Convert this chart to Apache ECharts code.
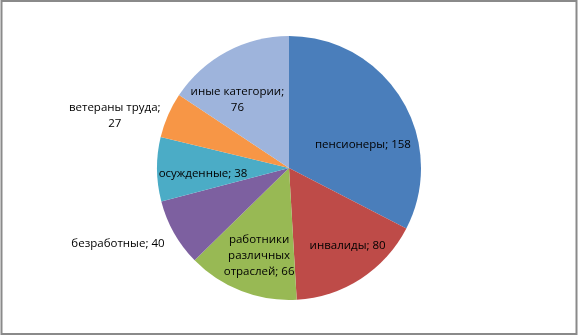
<!DOCTYPE html>
<html><head><meta charset="utf-8">
<script src="https://cdn.jsdelivr.net/npm/echarts@6/dist/echarts.min.js"></script>
<style>html,body{margin:0;padding:0;background:#fff;overflow:hidden}#c{width:578px;height:336px}</style>
</head><body><div id="c"></div>
<script>
const categories = ['пенсионеры', 'инвалиды', 'работники\nразличных\nотраслей', 'безработные', 'осужденные', 'ветераны труда', 'иные категории'];
const labelNames = ['пенсионеры; ', 'инвалиды; ', 'работники\nразличных\nотраслей; ', 'безработные; ', 'осужденные; ', 'ветераны труда;\n', 'иные категории;\n'];
const values = [158, 80, 66, 40, 38, 27, 76];

const colors = ['#4A7EBB', '#BE4B48', '#98B954', '#7D60A0', '#4BACC6', '#F79646', '#9EB4DC'];
const labelOffsets = [[15, 13], [21, 20], [-5, 23], [-111, 42], [-17, 5], [-111, -25], [-19, -7]];

const chart = echarts.init(document.getElementById('c'));
chart.setOption({
  animation: false,
  graphic: [{
    type: 'rect', shape: { x: 1.5, y: 1, width: 575, height: 333 },
    style: { fill: 'none', stroke: '#8a8a8a', lineWidth: 2 }, silent: true
  }],
  series: [{
    type: 'pie',
    center: [289, 168],
    radius: 132,
    startAngle: 90,
    clockwise: true,
    data: values.map((v, i) => ({
      name: categories[i], value: v,
      itemStyle: { color: colors[i] },
      label: { offset: labelOffsets[i] }
    })),
    itemStyle: { borderWidth: 0 },
    label: {
      show: true, position: 'inside',
      formatter: p => labelNames[p.dataIndex] + p.value,
      fontFamily: 'Open Sans', fontSize: 11.5, color: '#000', lineHeight: 16,
      align: 'center'
    },
    labelLine: { show: false }
  }]
});
</script></body></html>
